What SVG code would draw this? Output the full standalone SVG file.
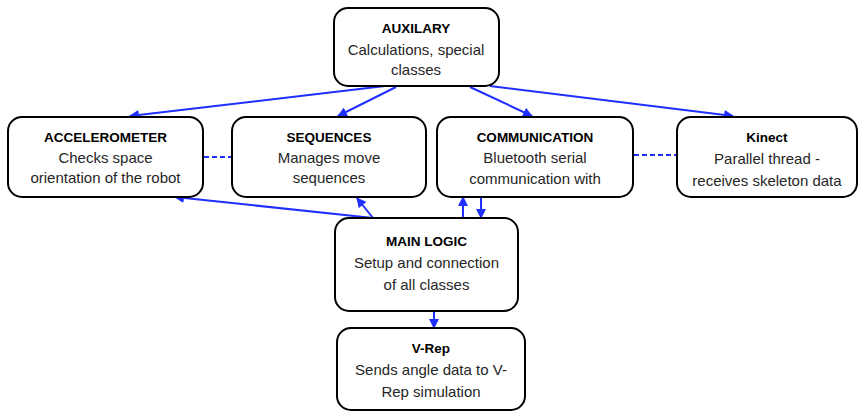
<svg xmlns="http://www.w3.org/2000/svg" width="865" height="411" viewBox="0 0 865 411">
<style>
.box{fill:#fff;stroke:#000;stroke-width:2}
.t{font-family:"Liberation Sans",Arial,sans-serif;font-size:13.5px;font-weight:bold;text-anchor:middle;fill:#000}
.b{font-family:"Liberation Sans",Arial,sans-serif;font-size:15px;text-anchor:middle;fill:#262626}
.c{stroke:#1f2fff;stroke-width:2;fill:none}
.d{stroke:#1f2fff;stroke-width:2;fill:none;stroke-dasharray:5 3}
</style>
<defs>
<marker id="ah" viewBox="0 0 10 10" refX="9" refY="5" markerWidth="5" markerHeight="5" orient="auto" markerUnits="strokeWidth">
<path d="M0,0 L10,5 L0,10 z" fill="#1f2fff"/>
</marker>
</defs>
<rect width="865" height="411" fill="#fff"/>
<g id="connectors">
<line class="c" x1="385" y1="86" x2="130" y2="116" marker-end="url(#ah)"/>
<line class="c" x1="396" y1="87" x2="338" y2="116" marker-end="url(#ah)"/>
<line class="c" x1="470" y1="87" x2="532" y2="116" marker-end="url(#ah)"/>
<line class="c" x1="490" y1="86" x2="733" y2="116" marker-end="url(#ah)"/>
<line class="d" x1="204" y1="157" x2="231" y2="157"/>
<line class="d" x1="634" y1="155" x2="676" y2="155"/>
<line class="c" x1="373" y1="218" x2="175" y2="197" marker-end="url(#ah)"/>
<line class="c" x1="373" y1="218" x2="357" y2="198" marker-end="url(#ah)"/>
<line class="c" x1="463" y1="218" x2="463" y2="197" marker-end="url(#ah)"/>
<line class="c" x1="481" y1="197" x2="481" y2="218" marker-end="url(#ah)"/>
<line class="c" x1="434" y1="311" x2="434" y2="328" marker-end="url(#ah)"/>
</g>
<g id="auxilary">
<rect class="box" x="334" y="8" width="165" height="78" rx="14"/>
<text class="t" x="416" y="33">AUXILARY</text>
<text class="b" x="416" y="55">Calculations, special</text>
<text class="b" x="416" y="75">classes</text>
</g>
<g id="accelerometer">
<rect class="box" x="8" y="117" width="195" height="80" rx="14"/>
<text class="t" x="105.5" y="142">ACCELEROMETER</text>
<text class="b" x="105.5" y="163">Checks space</text>
<text class="b" x="105.5" y="183">orientation of the robot</text>
</g>
<g id="sequences">
<rect class="box" x="232" y="117" width="194" height="80" rx="14"/>
<text class="t" x="329" y="142">SEQUENCES</text>
<text class="b" x="329" y="163">Manages move</text>
<text class="b" x="329" y="183">sequences</text>
</g>
<g id="communication">
<rect class="box" x="437" y="117" width="196" height="80" rx="14"/>
<text class="t" x="535" y="142">COMMUNICATION</text>
<text class="b" x="535" y="163">Bluetooth serial</text>
<text class="b" x="535" y="184">communication with</text>
</g>
<g id="kinect">
<rect class="box" x="677" y="117" width="180" height="80" rx="14"/>
<text class="t" x="767" y="142">Kinect</text>
<text class="b" x="767" y="164">Parallel thread -</text>
<text class="b" x="767" y="186">receives skeleton data</text>
</g>
<g id="mainlogic">
<rect class="box" x="335" y="218" width="183" height="93" rx="14"/>
<text class="t" x="426.5" y="246">MAIN LOGIC</text>
<text class="b" x="426.5" y="268">Setup and connection</text>
<text class="b" x="426.5" y="290">of all classes</text>
</g>
<g id="vrep">
<rect class="box" x="337" y="328" width="188" height="82" rx="14"/>
<text class="t" x="431" y="353">V-Rep</text>
<text class="b" x="431" y="375">Sends angle data to V-</text>
<text class="b" x="431" y="397">Rep simulation</text>
</g>
</svg>
